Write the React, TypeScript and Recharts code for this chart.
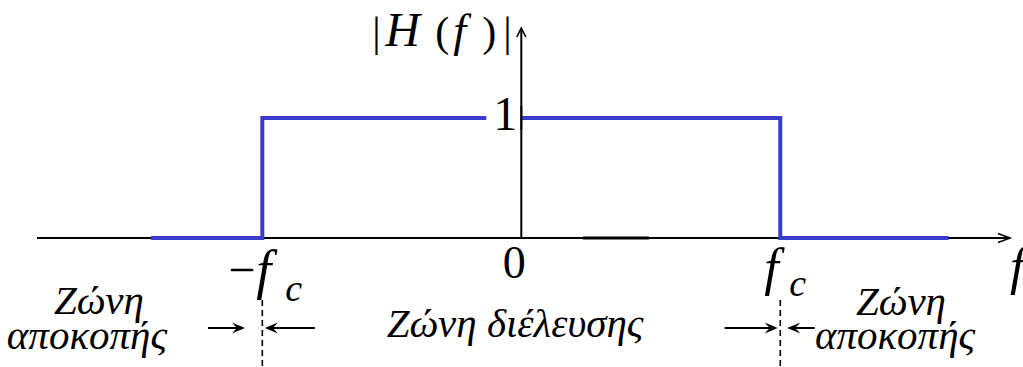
import React from "react";
import { LineChart, Line, XAxis, YAxis, ReferenceLine, ReferenceDot } from "recharts";

// Ideal low-pass response |H(f)|, frequency measured in units of fc
const freq = [-1.43, -1, -1, 1, 1, 1.65];
const gain = [0, 0, 1, 1, 0, 0];

// edges of the band: -fc and fc
const cutoffs = [-1, 1];

// little arrows that point at the cutoff markers, [from, to] along f
const edgeArrows: [number, number][] = [
  [-1.21, -1.067],
  [-0.797, -0.99],
  [0.785, 0.99],
  [1.133, 1.027],
];
const arrowLevel = -0.75;

const stopBandLabel = ["Ζώνη", "αποκοπής"];
const passBandLabel = "Ζώνη διέλευσης";

const fDomain = [-1.87, 1.887];
const hDomain = [-1.075, 1.8];

const data = freq.map((f, i) => ({ f, h: gain[i] }));

const SERIF = "Liberation Serif, Times New Roman, serif";
const BLUE = "#3a3acd";

const serif = (size: number, italic = false): React.CSSProperties => ({
  fontFamily: SERIF,
  fontSize: size,
  fontStyle: italic ? "italic" : "normal",
});

const AxisArrow = (p: any) => {
  const { x1, y1, x2, y2 } = p;
  const horiz = Math.abs(y2 - y1) < Math.abs(x2 - x1);
  const head = horiz
    ? `M${x2 - 12},${y2 - 4.5} L${x2},${y2} L${x2 - 12},${y2 + 4.5}`
    : `M${x2 - 4.5},${y2 + 9} L${x2},${y2} L${x2 + 4.5},${y2 + 9}`;
  return (
    <g>
      <line x1={x1} y1={y1} x2={x2} y2={y2} stroke="#000" strokeWidth={2} />
      <path d={head} fill="none" stroke="#000" strokeWidth={1.6} />
    </g>
  );
};

const EdgeArrow = (p: any) => {
  const { x1, y1, x2, y2 } = p;
  const d = Math.sign(x2 - x1) || 1;
  return (
    <g>
      <line x1={x1} y1={y1} x2={x2 - d * 6} y2={y2} stroke="#000" strokeWidth={2} />
      <path
        d={`M${x2},${y2} L${x2 - d * 13},${y2 - 5.5} L${x2 - d * 8},${y2} L${x2 - d * 13},${y2 + 5.5} Z`}
        fill="#000"
      />
    </g>
  );
};

const Caption = (text: string, size = 41) => (p: any) => (
  <text x={p.cx} y={p.cy} textAnchor="middle" style={serif(size, true)} fill="#000">
    {text}
  </text>
);

const MagnitudeTitle = (p: any) => {
  const { cx, cy } = p;
  return (
    <text y={cy} style={serif(42)} fill="#000">
      <tspan x={cx - 149}>|</tspan>
      <tspan x={cx - 136} fontStyle="italic" fontSize={48}>H</tspan>
      <tspan x={cx - 86}>(</tspan>
      <tspan x={cx - 68} fontStyle="italic" fontSize={46}>f</tspan>
      <tspan x={cx - 39}>)</tspan>
      <tspan x={cx - 18}>|</tspan>
    </text>
  );
};

// the "1" sits on a white patch that breaks the pass-band line
const UnitMark = (p: any) => {
  const { cx, cy } = p;
  return (
    <g>
      <rect x={cx - 35} y={cy - 8} width={34} height={16} fill="#fff" />
      <text x={cx - 16} y={cy + 12} textAnchor="middle" style={serif(48)} fill="#000">1</text>
      <line x1={cx} y1={cy - 12} x2={cx} y2={cy + 12} stroke="#000" strokeWidth={2} />
    </g>
  );
};

const ZeroMark = (p: any) => (
  <text x={p.cx - 7} y={p.cy + 40} textAnchor="middle" style={serif(46)} fill="#000">0</text>
);

const CutoffMark = (negative: boolean) => (p: any) => {
  const { cx, cy } = p;
  if (negative) {
    return (
      <g fill="#000">
        <text x={cx - 34} y={cy + 48} style={serif(48)}>−</text>
        <text x={cx - 6} y={cy + 50} style={serif(54, true)}>f</text>
        <text x={cx + 23} y={cy + 63} style={serif(38, true)}>c</text>
      </g>
    );
  }
  return (
    <g fill="#000">
      <text x={cx - 16} y={cy + 47} style={serif(52, true)}>f</text>
      <text x={cx + 9} y={cy + 58} style={serif(38, true)}>c</text>
    </g>
  );
};

const FreqName = (p: any) => (
  <text x={p.cx + 2} y={p.cy + 46} style={serif(52, true)} fill="#000">f</text>
);

export default function App() {
  return (
    <div style={{ position: "absolute", left: 0, top: 0, width: 1023, height: 367, background: "#fff" }}>
      <LineChart width={1023} height={367} data={data} margin={{ top: 22, right: 13, bottom: 0, left: 37 }}>
        <XAxis dataKey="f" type="number" domain={fDomain} hide allowDataOverflow />
        <YAxis type="number" domain={hDomain} hide allowDataOverflow />

        <ReferenceLine y={0} zIndex={300} shape={AxisArrow} />
        <ReferenceLine segment={[{ x: 0, y: 0 }, { x: 0, y: 1.75 }]} zIndex={300} shape={AxisArrow} />
        <ReferenceLine segment={[{ x: 0.238, y: 0 }, { x: 0.493, y: 0 }]} zIndex={300} stroke="#000" strokeWidth={3} />

        {cutoffs.map((c) => (
          <ReferenceLine
            key={`cut${c}`}
            segment={[{ x: c, y: -0.517 }, { x: c, y: -1.075 }]}
            stroke="#000"
            strokeWidth={1.6}
            strokeDasharray="6 4"
            zIndex={300}
          />
        ))}
        {edgeArrows.map(([a, b], i) => (
          <ReferenceLine
            key={`arr${i}`}
            segment={[{ x: a, y: arrowLevel }, { x: b, y: arrowLevel }]}
            zIndex={300}
            shape={EdgeArrow}
          />
        ))}

        <Line
          dataKey="h"
          type="linear"
          stroke={BLUE}
          strokeWidth={4}
          strokeLinejoin="miter"
          dot={false}
          activeDot={false}
          isAnimationActive={false}
        />

        <ReferenceDot x={0} y={1} zIndex={2100} shape={UnitMark} />
        <ReferenceDot x={0} y={1.6} zIndex={2100} shape={MagnitudeTitle} />
        <ReferenceDot x={0} y={0} zIndex={2100} shape={ZeroMark} />
        <ReferenceDot x={-1} y={0} zIndex={2100} shape={CutoffMark(true)} />
        <ReferenceDot x={1} y={0} zIndex={2100} shape={CutoffMark(false)} />
        <ReferenceDot x={1.879} y={0} zIndex={2100} shape={FreqName} />

        <ReferenceDot x={-0.024} y={-0.825} zIndex={2100} shape={Caption(passBandLabel)} />
        <ReferenceDot x={-1.631} y={-0.633} zIndex={2100} shape={Caption(stopBandLabel[0])} />
        <ReferenceDot x={-1.677} y={-0.925} zIndex={2100} shape={Caption(stopBandLabel[1])} />
        <ReferenceDot x={1.466} y={-0.642} zIndex={2100} shape={Caption(stopBandLabel[0])} />
        <ReferenceDot x={1.443} y={-0.925} zIndex={2100} shape={Caption(stopBandLabel[1])} />
      </LineChart>
    </div>
  );
}
